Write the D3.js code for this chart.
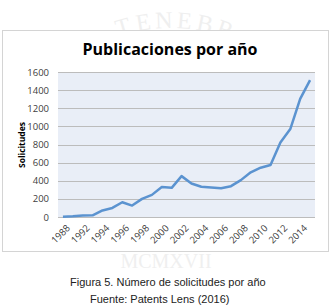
<!DOCTYPE html>
<html>
<head>
<meta charset="utf-8">
<script src="https://cdn.jsdelivr.net/npm/d3@7"></script>
<style>
    body { margin: 0; background: #fff; }
    svg { display: block; }
    .tick-label { font-family: 'Open Sans', sans-serif; font-size: 9.5px; fill: #404040; }
</style>
</head>
<body>
<svg id="chart" width="332" height="305"></svg>
<script>
'use strict'

// categories on the x axis (Excel shows every other one)
const years = ['1988', '1990', '1992', '1993', '1994', '1995', '1996', '1997', '1998', '1999',
    '2000', '2001', '2002', '2003', '2004', '2005', '2006', '2007', '2008', '2009',
    '2010', '2011', '2012', '2013', '2014', '2015']
const solicitudes = [3, 7, 17, 18, 72, 100, 163, 126, 200, 244,
    330, 322, 451, 370, 334, 326, 318, 340, 407, 493,
    544, 574, 822, 970, 1304, 1511]
const yTicks = [0, 200, 400, 600, 800, 1000, 1200, 1400, 1600]

const title = 'Publicaciones por año'
const yTitle = 'Solicitudes'
const caption = ['Figura 5. Número de solicitudes por año', 'Fuente: Patents Lens (2016)']

const svg = d3.select('#chart')

// faint watermark: only the letters peeking out above the frame are drawn
const wm = svg.append('g').attr('fill', '#efefef')
    .style('font-family', 'Liberation Serif, serif')
    .style('font-size', '24px')
const arc = {cx: 170, cy: 190, r: 162}
wm.selectAll('text')
    .data(['T', 'E', 'N', 'E', 'B', 'R'])
    .enter()
    .append('text')
    .attr('text-anchor', 'middle')
    .attr('transform', function (d, i) {
        const a = (i - 2.3) * 7
        return 'rotate(' + a + ',' + arc.cx + ',' + arc.cy + ') translate(' + arc.cx + ',' + (arc.cy - arc.r) + ')'
    })
    .text(d => d)
wm.append('text')
    .attr('x', 166).attr('y', 268)
    .attr('text-anchor', 'middle')
    .style('font-size', '20px')
    .text('MCMXVII')

// chart frame
svg.append('rect')
    .attr('x', 2.5).attr('y', 30.5)
    .attr('width', 326).attr('height', 221)
    .attr('fill', '#fff')
    .attr('stroke', '#d4d4d4')

const plot = {left: 58, right: 315, top: 72, bottom: 217}

const x = d3.scaleBand()
    .domain(years)
    .range([plot.left, plot.right])
const y = d3.scaleLinear()
    .domain([0, 1600])
    .range([plot.bottom, plot.top])

svg.append('rect')
    .attr('x', plot.left).attr('y', plot.top)
    .attr('width', plot.right - plot.left)
    .attr('height', plot.bottom - plot.top)
    .attr('fill', '#e9eef7')

// horizontal gridlines
svg.append('g')
    .selectAll('line')
    .data(yTicks)
    .enter()
    .append('line')
    .attr('x1', plot.left).attr('x2', plot.right)
    .attr('y1', d => Math.round(y(d)) + 0.5)
    .attr('y2', d => Math.round(y(d)) + 0.5)
    .attr('stroke', '#bcbcbc')

const yAxis = svg.append('g')
    .attr('transform', 'translate(' + plot.left + ',0)')
    .call(d3.axisLeft(y).tickValues(yTicks).tickFormat(d3.format('d')).tickSize(0).tickPadding(9))
yAxis.select('.domain').remove()
yAxis.selectAll('text').attr('class', 'tick-label').attr('fill', null)

// x labels, every other category, rotated
svg.append('g')
    .selectAll('text')
    .data(years.filter((d, i) => i % 2 === 0))
    .enter()
    .append('text')
    .attr('class', 'tick-label')
    .attr('text-anchor', 'end')
    .attr('transform', d => 'translate(' + (x(d) + x.bandwidth() / 2 + 3) + ',' + (plot.bottom + 7) + ') rotate(-45)')
    .attr('dy', '0.7em')
    .text(d => d)

const line = d3.line()
    .x((d, i) => x(years[i]) + x.bandwidth() / 2)
    .y(d => y(d))

svg.append('path')
    .datum(solicitudes)
    .attr('d', line)
    .attr('fill', 'none')
    .attr('stroke', '#5b93d0')
    .attr('stroke-width', 2.5)
    .attr('stroke-linejoin', 'round')

svg.append('text')
    .attr('x', 170).attr('y', 55)
    .attr('text-anchor', 'middle')
    .style('font-family', 'Open Sans, sans-serif')
    .style('font-weight', 'bold')
    .style('font-size', '16px')
    .attr('fill', '#000')
    .text(title)

svg.append('text')
    .attr('transform', 'translate(25,145) rotate(-90)')
    .attr('text-anchor', 'middle')
    .style('font-family', 'Open Sans, sans-serif')
    .style('font-weight', 'bold')
    .style('font-size', '8.5px')
    .text(yTitle)

svg.append('g')
    .style('font-family', 'Liberation Sans, Arial, sans-serif')
    .style('font-size', '11px')
    .attr('fill', '#222')
    .selectAll('text')
    .data(caption)
    .enter()
    .append('text')
    .attr('x', (d, i) => i === 0 ? 70 : 90)
    .attr('y', (d, i) => i === 0 ? 286 : 303)
    .text(d => d)
</script>
</body>
</html>
